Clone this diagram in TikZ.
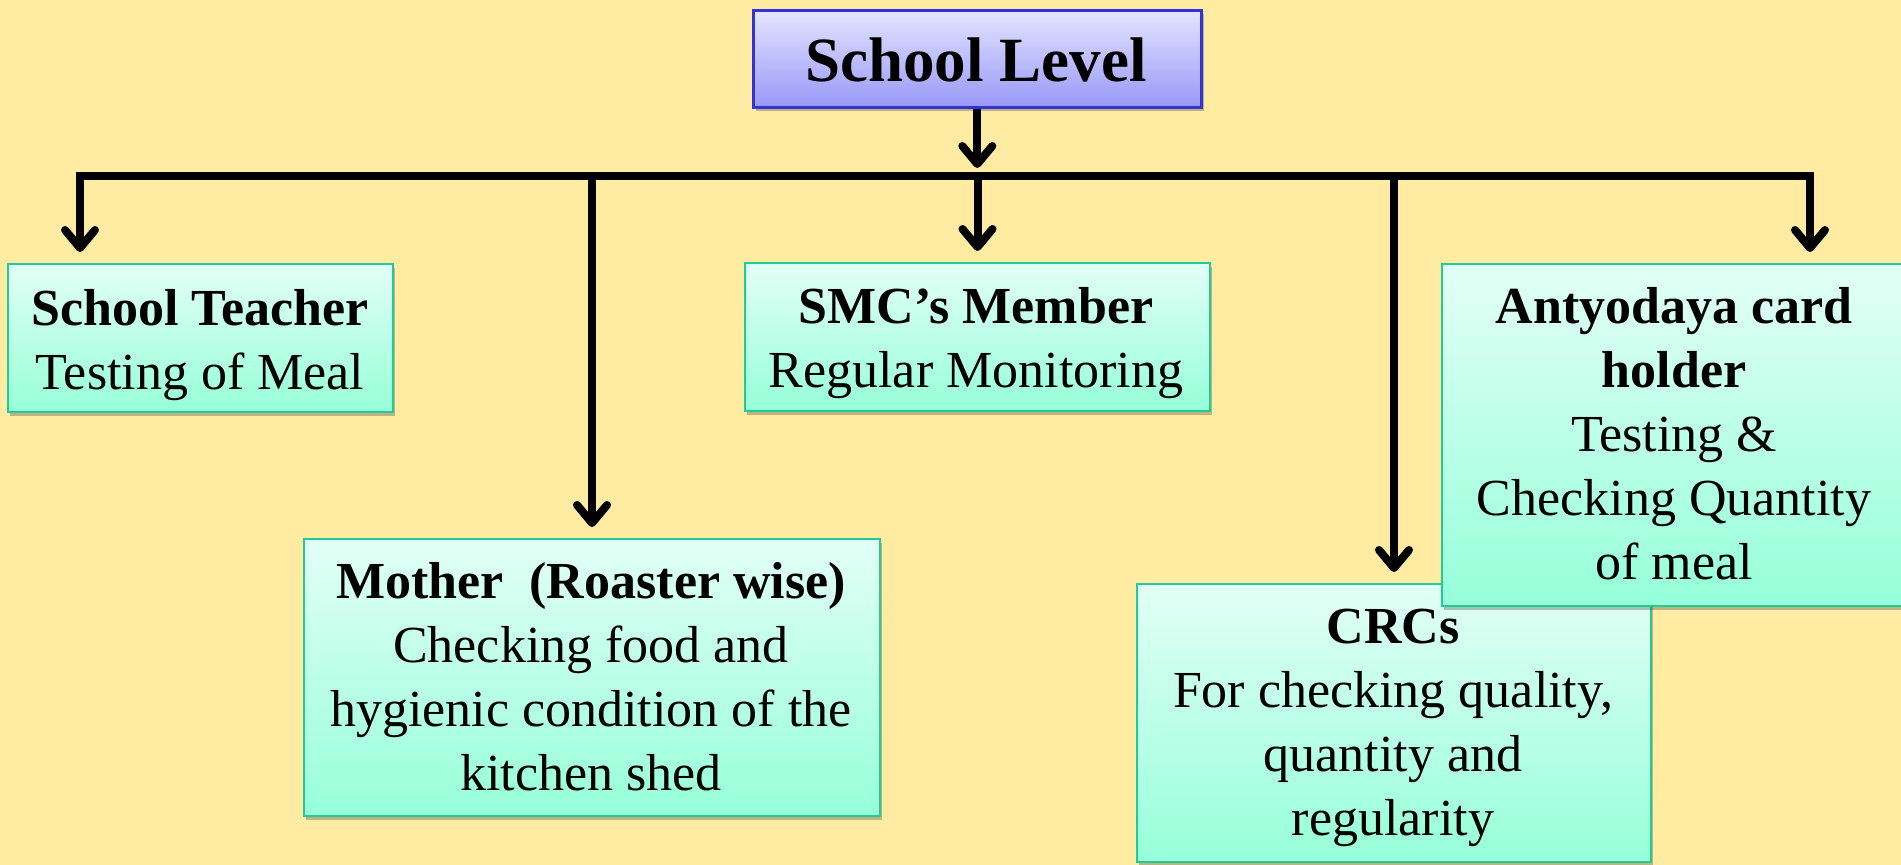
\documentclass[tikz,border=0pt]{standalone}
\usepackage{fontspec}
\setmainfont{Liberation Serif}
\usetikzlibrary{arrows.meta,shadows}
\definecolor{bgyellow}{RGB}{255,235,161}
\definecolor{minttop}{RGB}{226,255,246}
\definecolor{mintbot}{RGB}{150,255,218}
\definecolor{mintline}{RGB}{30,204,150}
\definecolor{bluetop}{RGB}{228,228,255}
\definecolor{bluebot}{RGB}{152,152,248}
\definecolor{blueline}{RGB}{50,50,215}
\tikzset{
  sub/.style={draw=mintline, line width=1pt, top color=minttop, bottom color=mintbot,
    inner sep=0pt, anchor=north west,
    drop shadow={shadow xshift=1.2pt, shadow yshift=-2pt, opacity=0.35, fill=black!70}},
  head/.style={draw=blueline, line width=1.3pt, top color=bluetop, bottom color=bluebot,
    inner sep=0pt, anchor=north west,
    drop shadow={shadow xshift=1.2pt, shadow yshift=-2pt, opacity=0.35, fill=black!70}},
  txt/.style={align=center, inner sep=0pt, anchor=north, font=\fontsize{26}{32}\selectfont},
  ttl/.style={inner sep=0pt, anchor=base, font=\fontsize{31.5}{38}\selectfont\bfseries},
  conn/.style={line width=4pt, black},
  arr/.style={conn, -{Straight Barb[length=9pt,width=15pt,round]}, shorten >=5.5pt},
}
\begin{document}
\begin{tikzpicture}[x=0.5pt,y=-0.5pt]
\useasboundingbox (0,0) rectangle (1901,865);
\fill[bgyellow] (0,0) rectangle (1901,865);

% boxes
\node[head, minimum width=448*0.5pt, minimum height=97*0.5pt] (title) at (752,9) {};
\node[ttl] (titletext) at (976,82) {School Level};

\node[sub, minimum width=385*0.5pt, minimum height=148*0.5pt] (teacher) at (7,263) {};
\node[txt] (teachertext) at (200,280.2) {\strut\textbf{School Teacher}\\Testing of Meal};

\node[sub, minimum width=465*0.5pt, minimum height=148*0.5pt] (smc) at (744,262) {};
\node[txt] (smctext) at (976,278.2) {\strut\textbf{SMC’s Member}\\Regular Monitoring};

\node[sub, minimum width=576*0.5pt, minimum height=277*0.5pt] (mother) at (303,538) {};
\node[txt] (mothertext) at (591,553.2) {\strut\textbf{Mother\ \ (Roaster wise)}\\Checking food and\\hygienic condition of the\\kitchen shed};

\node[sub, minimum width=514*0.5pt, minimum height=278*0.5pt] (crc) at (1136,583) {};
\node[txt] (crctext) at (1393,598.2) {\strut\textbf{CRCs}\\For checking quality,\\quantity and\\regularity};

\node[sub, minimum width=466*0.5pt, minimum height=342*0.5pt] (anty) at (1441,263) {};
\node[txt] (antytext) at (1674,278.2) {\strut\textbf{Antyodaya card}\\\textbf{holder}\\Testing \&\\Checking Quantity\\of meal};

% connectors
\coordinate (busL) at (80,176);
\coordinate (busR) at (1810,176);
\draw[conn, line cap=rect] (busL) -- (busR);
\draw[arr, shorten >=4pt] (title.south) -- (title.south |- busL);
\draw[arr] (busL) -- (busL |- teacher.north);
\draw[arr] (mother.north |- busL) -- (mother.north);
\draw[arr] (smc.north |- busL) -- (smc.north);
\draw[arr] (crc.north |- busL) -- (crc.north);
\draw[arr] (busR) -- (busR |- anty.north);
\end{tikzpicture}
\end{document}
